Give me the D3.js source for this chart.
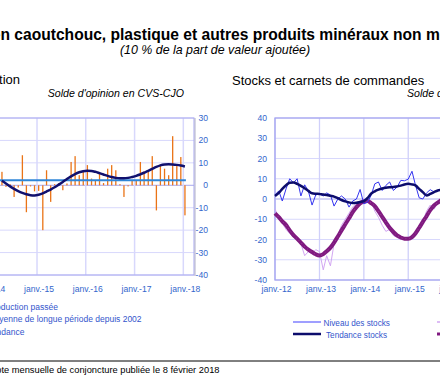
<!DOCTYPE html>
<html>
<head>
<meta charset="utf-8">
<script src="https://cdn.jsdelivr.net/npm/d3@7"></script>
<style>
  body { margin: 0; background: #fff; }
  svg { font-family: "Liberation Sans", Arial, sans-serif; }
  .tick-lbl { font-size: 8.6px; fill: #3366cc; }
  .leg { font-size: 8.5px; fill: #3355cc; }
</style>
</head>
<body>
<div id="chart"></div>
<script>
var svgWidth = 440;
var svgHeight = 386;

// left panel : production passee, monthly from april 2014
var prodStart = new Date(2014, 3, 1);
var prodValues = [6, -0.7, 0.5, -5.2, -1, 13.4, -12, -0.5, -2.7,
  -2.5, -20, 6.7, -7.4, 0.5, 1, -2.2, 0.8, 10.4, 13, 4.5, 6.2,
  9, 3, 2, 5.2, 1, 7.4, 9, 6.7, 0.5, -5.2, -0.5, 2,
  2.2, 10.4, 6.2, 6, 13, -11.2, 9, 7.4, 4.5, 21.9, 9, 12.6,
  -13.4];
var prodTrend = [2.0, 0.8, -0.5, -1.6, -2.6, -3.4, -4.0, -4.4, -4.5,
  -4.2, -3.6, -2.8, -1.9, -0.9, 0.3, 1.5, 2.8, 4.0, 5.0, 5.8, 6.3,
  6.5, 6.4, 6.0, 5.4, 4.8, 4.2, 3.7, 3.3, 3.1, 3.1, 3.3, 3.7,
  4.2, 4.9, 5.6, 6.4, 7.3, 8.2, 8.9, 9.3, 9.4, 9.3, 9.1, 8.8,
  8.4];
var longTermMean = 2.2;
var leftTicks = [-40, -30, -20, -10, 0, 10, 20, 30];

// right panel : stocks et carnets, monthly from january 2012
var stockStart = new Date(2012, 0, 1);
var stockValues = [2, 4, -1, 5, 10, 8, 10, 1.5, 7, 4, -3, 2,
  2.5, 1.5, 3, 2, -3.5, 0, 1.5, 0, -4, -1, 0, 4.7,
  -2.4, -1.5, 1.7, 7.5, 8.4, 4.2, 6.7, 8.4, 4.2, 5.9, 9.2, 9,
  9.8, 13.7, 7, 0.6, 0, 3, 4.6, 3.5, 4, 5];
var stockTrend = [1.5, 3, 5, 6.8, 8, 8.1, 7.5, 6.5, 5.3, 4, 2.8, 2.6,
  2.5, 2.2, 2, 1.6, 1.2, 0.4, -0.5, -1.2, -1.7, -2, -1.9, -1.5,
  -1, 0.5, 2.6, 3.8, 4.6, 5.2, 5.6, 5.8, 5.9, 6.2, 6.6, 7.2,
  7.5, 7.2, 6.7, 5, 3.4, 1.7, 2.5, 3.4, 4.2, 4.5];
var orderValues = [-5, -9, -12, -15, -17, -19, -20, -22, -28, -26, -27, -25,
  -26, -35, -28, -33, -22, -18, -13, -10, -7, -4, -2, -1,
  0, -1, -1, -6, -9, -13, -16, -15, -18, -19, -20, -19,
  -20, -19, -17, -13, -11, -6, -3, -5, -2, -1];
var orderTrend = [-7.1, -9, -11, -12.9, -15.5, -17.8, -19.6, -21.5, -23.5, -25, -26.2, -27.3,
  -27.9, -27.2, -25.8, -24, -21.5, -18.5, -15.5, -12.5, -9.5, -6.5, -4, -2.2,
  -1.2, -1, -2, -3.5, -6, -8.8, -11.5, -14.2, -16.3, -18, -19, -19.6,
  -19.6, -18.8, -17, -14.2, -11.3, -8.5, -5.5, -3.2, -1.8, -0.5];
var rightTicks = [-40, -30, -20, -10, 0, 10, 20, 30, 40];

var legendLeft = ["Production passée", "Moyenne de longue période depuis 2002", "Tendance"];
var legendRight = ["Niveau des stocks", "Tendance stocks"];

function monthDates(start, n) {
  return d3.range(n).map(i => d3.timeMonth.offset(start, i));
}
function janvFormat(d) {
  return "janv.-" + d3.timeFormat("%y")(d);
}

var svg = d3.select("#chart")
  .append("svg")
  .attr("width", svgWidth)
  .attr("height", svgHeight);

// titles
svg.append("text")
  .attr("x", -8.2).attr("y", 39.5)
  .style("font-size", "15.6px").style("font-weight", "bold")
  .text("en caoutchouc, plastique et autres produits minéraux non métalliques");
svg.append("text")
  .attr("x", 215).attr("y", 54)
  .attr("text-anchor", "middle")
  .style("font-size", "12.4px").style("font-style", "italic")
  .text("(10 % de la part de valeur ajoutée)");

svg.append("text")
  .attr("x", 20).attr("y", 84)
  .attr("text-anchor", "end")
  .style("font-size", "13px")
  .text("Production");
svg.append("text")
  .attr("x", 232).attr("y", 85)
  .style("font-size", "13px")
  .text("Stocks et carnets de commandes");
svg.append("text")
  .attr("x", 184).attr("y", 97)
  .attr("text-anchor", "end")
  .style("font-size", "10.6px").style("font-style", "italic")
  .text("Solde d'opinion en CVS-CJO");
svg.append("text")
  .attr("x", 407).attr("y", 97)
  .style("font-size", "10.6px").style("font-style", "italic")
  .text("Solde d'opinion en CVS-CJO");

// ---------- left panel ----------
var L = { left: -20, right: 194, top: 118, bottom: 275 };
var xL = d3.scaleTime()
  .domain([new Date(2014, 0, 1), new Date(2018, 0, 1)])
  .range([-11.7, 183.3]);
var yL = d3.scaleLinear().domain([-40, 30]).range([L.bottom, L.top]);

var leftG = svg.append("g");
leftG.selectAll(".hgrid").data(leftTicks).enter().append("line")
  .attr("x1", L.left).attr("x2", L.right)
  .attr("y1", d => yL(d)).attr("y2", d => yL(d))
  .attr("stroke", d => d === 0 ? "#a8a8ee" : "#d8d8fc").attr("stroke-width", 1);
leftG.selectAll(".vgrid").data(xL.ticks(d3.timeYear.every(1))).enter().append("line")
  .attr("x1", d => xL(d)).attr("x2", d => xL(d))
  .attr("y1", L.top).attr("y2", L.bottom)
  .attr("stroke", "#d8d8fc").attr("stroke-width", 1.5);
leftG.append("rect")
  .attr("x", L.left).attr("y", L.top)
  .attr("width", L.right - L.left).attr("height", L.bottom - L.top)
  .attr("fill", "none").attr("stroke", "#a6a6f0");
leftG.append("line")
  .attr("x1", L.right + 1).attr("x2", L.right + 1)
  .attr("y1", L.top).attr("y2", L.bottom + 1)
  .attr("stroke", "#b0b0c8").attr("stroke-width", 1);

var prodDates = monthDates(prodStart, prodValues.length);
var barX = d => xL(d3.timeDay.offset(d, 12));
leftG.selectAll(".bar").data(prodValues).enter().append("rect")
  .attr("x", (d, i) => barX(prodDates[i]) - 0.6)
  .attr("width", 1.3)
  .attr("y", d => yL(Math.max(0, d)))
  .attr("height", d => Math.abs(yL(d) - yL(0)))
  .attr("fill", "#ea7417");

leftG.append("line")
  .attr("x1", L.left).attr("x2", barX(prodDates[prodDates.length - 1]) + 1)
  .attr("y1", yL(longTermMean)).attr("y2", yL(longTermMean))
  .attr("stroke", "#2f86d8").attr("stroke-width", 2);

leftG.append("path")
  .datum(prodTrend)
  .attr("fill", "none").attr("stroke", "#10106e").attr("stroke-width", 2.5)
  .attr("d", d3.line().curve(d3.curveMonotoneX)
    .x((d, i) => barX(prodDates[i])).y(d => yL(d)));

leftG.selectAll(".ylab").data(leftTicks).enter().append("text")
  .attr("class", "tick-lbl")
  .attr("x", 208).attr("y", d => yL(d) + 3)
  .attr("text-anchor", "end")
  .text(d => d);
leftG.selectAll(".xlab").data(xL.ticks(d3.timeYear.every(1))).enter().append("text")
  .attr("class", "tick-lbl")
  .attr("x", d => xL(d) + 2).attr("y", 292)
  .attr("text-anchor", "middle")
  .text(janvFormat);

legendLeft.forEach(function(t, i) {
  svg.append("text").attr("class", "leg")
    .attr("x", -12.5).attr("y", 309.5 + i * 12.7)
    .text(t);
});

// ---------- right panel ----------
var R = { left: 275, right: 546, top: 118, bottom: 280 };
var xR = d3.scaleTime()
  .domain([new Date(2012, 0, 1), new Date(2016, 0, 1)])
  .range([275, 452.6]);
var yR = d3.scaleLinear().domain([-40, 40]).range([R.bottom, R.top]);

var rightG = svg.append("g");
rightG.selectAll(".hgrid").data(rightTicks).enter().append("line")
  .attr("x1", R.left).attr("x2", R.right)
  .attr("y1", d => yR(d)).attr("y2", d => yR(d))
  .attr("stroke", d => d === 0 ? "#a8a8ee" : "#d8d8fc").attr("stroke-width", 1);
rightG.selectAll(".vgrid").data(xR.ticks(d3.timeYear.every(1))).enter().append("line")
  .attr("x1", d => xR(d)).attr("x2", d => xR(d))
  .attr("y1", R.top).attr("y2", R.bottom)
  .attr("stroke", "#d0d0fa").attr("stroke-width", 1.3);
rightG.append("rect")
  .attr("x", R.left).attr("y", R.top)
  .attr("width", R.right - R.left).attr("height", R.bottom - R.top)
  .attr("fill", "none").attr("stroke", "#a6a6f0").attr("stroke-width", 1.3);

var rDates = monthDates(stockStart, stockValues.length);
var lineR = d3.line().x((d, i) => xR(rDates[i])).y(d => yR(d));
var smoothR = d3.line().curve(d3.curveMonotoneX).x((d, i) => xR(rDates[i])).y(d => yR(d));

rightG.append("path").datum(orderValues)
  .attr("fill", "none").attr("stroke", "#d2a6f2").attr("stroke-width", 1)
  .attr("d", lineR);
rightG.append("path").datum(orderTrend)
  .attr("fill", "none").attr("stroke", "#801a80").attr("stroke-width", 4)
  .attr("d", smoothR);
rightG.append("path").datum(orderTrend)
  .attr("fill", "none").attr("stroke", "#b46ab6").attr("stroke-width", 1)
  .attr("stroke-dasharray", "1,3").attr("opacity", 0.5)
  .attr("d", smoothR);
rightG.append("path").datum(stockValues)
  .attr("fill", "none").attr("stroke", "#3434f0").attr("stroke-width", 1)
  .attr("d", lineR);
rightG.append("path").datum(stockTrend)
  .attr("fill", "none").attr("stroke", "#0c0c6c").attr("stroke-width", 2.5)
  .attr("d", smoothR);

rightG.selectAll(".ylab").data(rightTicks).enter().append("text")
  .attr("class", "tick-lbl")
  .attr("x", 267).attr("y", d => yR(d) + 3)
  .attr("text-anchor", "end")
  .text(d => d);
rightG.selectAll(".xlab").data(xR.ticks(d3.timeYear.every(1))).enter().append("text")
  .attr("class", "tick-lbl")
  .attr("x", d => xR(d) + 1.5).attr("y", 292)
  .attr("text-anchor", "middle")
  .text(janvFormat);

// right legend
var legColors = [["#7f7fff", 1.5], ["#0c0c6c", 2.5]];
var legColors2 = [["#d2a6f2", 1.5], ["#801a80", 3]];
legendRight.forEach(function(t, i) {
  var y = 322 + i * 12;
  svg.append("line").attr("x1", 293).attr("x2", 321).attr("y1", y).attr("y2", y)
    .attr("stroke", legColors[i][0]).attr("stroke-width", legColors[i][1]);
  svg.append("text").attr("class", "leg")
    .style("font-size", "8.2px")
    .attr("x", 323.5 + i * 2.5).attr("y", y + 3.5)
    .text(t);
  svg.append("line").attr("x1", 437).attr("x2", 465).attr("y1", y).attr("y2", y)
    .attr("stroke", legColors2[i][0]).attr("stroke-width", legColors2[i][1]);
});

// footer
svg.append("line")
  .attr("x1", 0).attr("x2", svgWidth).attr("y1", 361).attr("y2", 361)
  .attr("stroke", "#000").attr("stroke-width", 1);
svg.append("text")
  .attr("x", -10.5).attr("y", 373)
  .style("font-size", "9.3px")
  .text("Note mensuelle de conjoncture publiée le 8 février 2018");
</script>
</body>
</html>
